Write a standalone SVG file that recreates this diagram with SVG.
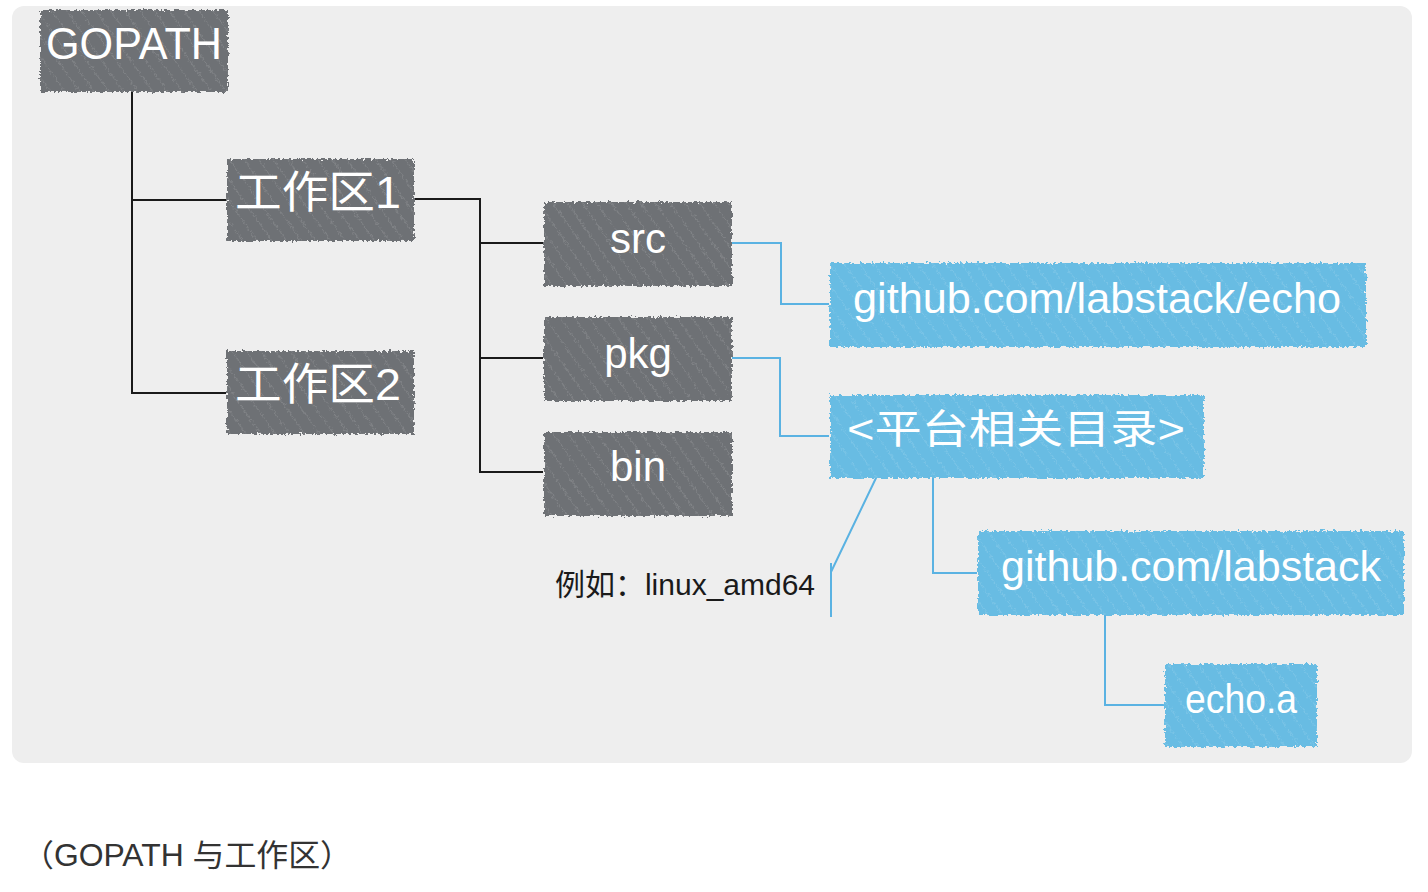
<svg xmlns="http://www.w3.org/2000/svg" width="1428" height="892" viewBox="0 0 1428 892">
<style>
.g{fill:#6e7175}
.b{fill:#68bce3}
.t{font-family:"Liberation Sans","Noto Sans CJK SC",sans-serif;fill:#ffffff;text-anchor:middle;dominant-baseline:central}
.k{stroke:#1a1a1a;stroke-width:2;fill:none}
.u{stroke:#5ab2e2;stroke-width:2;fill:none}
</style>
<defs>
<pattern id="hatch" width="12" height="12" patternUnits="userSpaceOnUse" patternTransform="rotate(-35)">
<line x1="0" y1="0" x2="0" y2="12" stroke="#ffffff" stroke-opacity="0.12" stroke-width="2"/>
</pattern>
<filter id="rough" x="-5%" y="-10%" width="110%" height="120%">
<feTurbulence type="fractalNoise" baseFrequency="0.35" numOctaves="2" seed="3" result="n"/>
<feDisplacementMap in="SourceGraphic" in2="n" scale="6" xChannelSelector="R" yChannelSelector="G"/>
</filter>
</defs>
<rect x="0" y="0" width="1428" height="892" fill="#ffffff"/>
<rect x="12" y="6" width="1400" height="757" rx="12" fill="#eeeeee"/>
<g id="connectors">
<path class="k" d="M132 92V393H226M132 200H226"/>
<path class="k" d="M414 199H480V472H543M480 243H543M480 358H543"/>
<path class="u" d="M732 243H781V304H829"/>
<path class="u" d="M732 358H780V436H829"/>
<path class="u" d="M933 478V573H977"/>
<path class="u" d="M1105 615V705H1164"/>
<path class="u" d="M876 478L831 572M831 563V617"/>
</g>
<g id="gopath"><g filter="url(#rough)"><rect class="g" x="40" y="10" width="188" height="82"/><rect x="40" y="10" width="188" height="82" fill="url(#hatch)"/></g><text class="t" x="134" y="43" font-size="44" textLength="176" lengthAdjust="spacingAndGlyphs">GOPATH</text></g>
<g id="ws1"><g filter="url(#rough)"><rect class="g" x="227" y="159" width="187" height="82"/><rect x="227" y="159" width="187" height="82" fill="url(#hatch)"/></g><text class="t" x="318" y="192" font-size="44" textLength="166" lengthAdjust="spacingAndGlyphs">工作区1</text></g>
<g id="ws2"><g filter="url(#rough)"><rect class="g" x="227" y="351" width="187" height="83"/><rect x="227" y="351" width="187" height="83" fill="url(#hatch)"/></g><text class="t" x="318" y="384" font-size="44" textLength="166" lengthAdjust="spacingAndGlyphs">工作区2</text></g>
<g id="src"><g filter="url(#rough)"><rect class="g" x="544" y="202" width="188" height="84"/><rect x="544" y="202" width="188" height="84" fill="url(#hatch)"/></g><text class="t" x="638" y="238" font-size="42">src</text></g>
<g id="pkg"><g filter="url(#rough)"><rect class="g" x="544" y="317" width="188" height="84"/><rect x="544" y="317" width="188" height="84" fill="url(#hatch)"/></g><text class="t" x="638" y="353" font-size="42">pkg</text></g>
<g id="bin"><g filter="url(#rough)"><rect class="g" x="544" y="432" width="188" height="84"/><rect x="544" y="432" width="188" height="84" fill="url(#hatch)"/></g><text class="t" x="638" y="466" font-size="42">bin</text></g>
<g id="echo"><g filter="url(#rough)"><rect class="b" x="830" y="263" width="536" height="84"/><rect x="830" y="263" width="536" height="84" fill="url(#hatch)"/></g><text class="t" x="1097" y="298" font-size="42" textLength="488" lengthAdjust="spacingAndGlyphs">github.com/labstack/echo</text></g>
<g id="platform"><g filter="url(#rough)"><rect class="b" x="830" y="395" width="374" height="83"/><rect x="830" y="395" width="374" height="83" fill="url(#hatch)"/></g><text class="t" x="1016" y="429" font-size="40" textLength="338" lengthAdjust="spacingAndGlyphs">&lt;平台相关目录&gt;</text></g>
<g id="labstack"><g filter="url(#rough)"><rect class="b" x="978" y="531" width="426" height="84"/><rect x="978" y="531" width="426" height="84" fill="url(#hatch)"/></g><text class="t" x="1191" y="566" font-size="42" textLength="380" lengthAdjust="spacingAndGlyphs">github.com/labstack</text></g>
<g id="echoa"><g filter="url(#rough)"><rect class="b" x="1165" y="664" width="152" height="83"/><rect x="1165" y="664" width="152" height="83" fill="url(#hatch)"/></g><text class="t" x="1241" y="699" font-size="40" textLength="112" lengthAdjust="spacingAndGlyphs">echo.a</text></g>
<g id="note"><text x="555" y="584" font-family="Liberation Sans,Noto Sans CJK SC,sans-serif" font-size="30" fill="#1a1a1a" dominant-baseline="central" textLength="260" lengthAdjust="spacingAndGlyphs">例如：linux_amd64</text></g>
<text x="22" y="855" font-family="Liberation Sans,Noto Sans CJK SC,sans-serif" font-size="31" fill="#333333" dominant-baseline="central" textLength="330" lengthAdjust="spacingAndGlyphs">（GOPATH 与工作区）</text>
</svg>
